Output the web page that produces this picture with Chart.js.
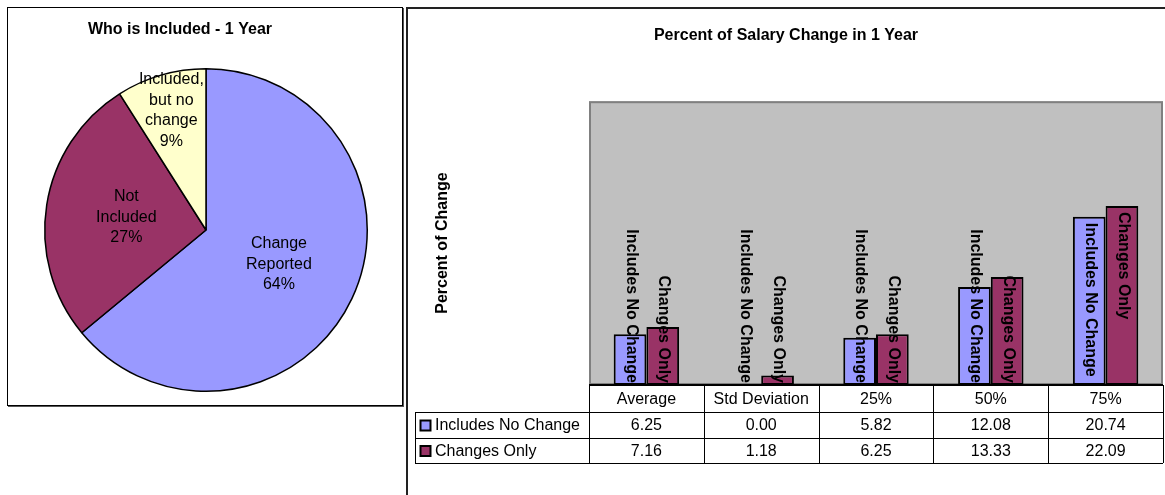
<!DOCTYPE html>
<html>
<head>
<meta charset="utf-8">
<script src="https://cdn.jsdelivr.net/npm/chart.js@4.4.0/dist/chart.umd.min.js"></script>
<style>
  body { margin: 0; background: #fff; width: 1165px; height: 495px; overflow: hidden; position: relative; }
  #pieBox { position: absolute; left: 7px; top: 7px; width: 396px; height: 399px; box-sizing: border-box; border: 1px solid #000; box-shadow: 1px 1px 0 #555; }
  #barBox { position: absolute; left: 406px; top: 7px; width: 770px; height: 500px; box-sizing: border-box; border-left: 2px solid #222; border-top: 2px solid #222; }
  #pieChart { position: absolute; left: 0; top: 0; }
  #barChart { position: absolute; left: 409px; top: 9px; }
</style>
</head>
<body>
<div id="pieBox"></div>
<div id="barBox"></div>
<canvas id="pieChart" width="405" height="405"></canvas>
<canvas id="barChart" width="756" height="486"></canvas>
<script>
const FONT = '"Liberation Sans", Arial, sans-serif'

// pie data
const pieLabels = ['Change Reported', 'Not Included', 'Included, but no change']
const pieValues = [64, 27, 9]
const pieColors = ['#9999FF', '#993366', '#FFFFCC']

// bar data
const categories = ['Average', 'Std Deviation', '25%', '50%', '75%']
const seriesNames = ['Includes No Change', 'Changes Only']
const includesNoChange = [6.25, 0.00, 5.82, 12.08, 20.74]
const changesOnly = [7.16, 1.18, 6.25, 13.33, 22.09]
const seriesColors = ['#9999FF', '#993366']

function wrapText(ctx, text, maxWidth) {
    const words = text.split(' ')
    const lines = []
    let line = ''
    words.forEach((w) => {
        const test = line ? line + ' ' + w : w
        if (line && ctx.measureText(test).width > maxWidth) {
            lines.push(line)
            line = w
        } else {
            line = test
        }
    })
    if (line) lines.push(line)
    return lines
}

// slice labels + title for the pie
const pieText = {
    id: 'pieText',
    afterDatasetsDraw(chart, args, opts) {
        const ctx = chart.ctx
        const meta = chart.getDatasetMeta(0)
        const data = chart.data.datasets[0].data
        const total = data.reduce((a, b) => a + b, 0)
        ctx.save()
        ctx.fillStyle = '#000'
        ctx.textAlign = 'center'
        ctx.textBaseline = 'middle'
        ctx.font = '16px ' + FONT
        meta.data.forEach((arc, i) => {
            const p = arc.getProps(['x', 'y', 'startAngle', 'endAngle', 'outerRadius'], true)
            const mid = (p.startAngle + p.endAngle) / 2
            const r = p.outerRadius * opts.radius[i]
            const cx = p.x + Math.cos(mid) * r
            const cy = p.y + Math.sin(mid) * r
            const lines = wrapText(ctx, chart.data.labels[i], 76)
            lines.push(Math.round(data[i] / total * 100) + '%')
            lines.forEach((t, j) => {
                ctx.fillText(t, cx, cy + (j - (lines.length - 1) / 2) * 20.5)
            })
        })
        ctx.font = 'bold 16px ' + FONT
        ctx.fillText(opts.title, opts.titleX, opts.titleY)
        ctx.restore()
    }
}

new Chart(document.getElementById('pieChart'), {
    type: 'pie',
    data: {
        labels: pieLabels,
        datasets: [{
            data: pieValues,
            backgroundColor: pieColors,
            borderColor: '#000',
            borderWidth: 1.5
        }]
    },
    options: {
        responsive: false,
        animation: false,
        layout: { padding: { left: 44, right: 37, top: 68, bottom: 13 } },
        plugins: {
            legend: { display: false },
            tooltip: { enabled: false },
            pieText: { radius: [0.5, 0.5, 0.77], title: 'Who is Included - 1 Year', titleX: 180, titleY: 30 }
        }
    },
    plugins: [pieText]
})

// gray plot area
const plotBg = {
    id: 'plotBg',
    beforeDatasetsDraw(chart) {
        const { ctx, chartArea: a } = chart
        ctx.save()
        ctx.fillStyle = '#C0C0C0'
        ctx.fillRect(a.left, a.top, a.right - a.left, a.bottom - a.top)
        ctx.strokeStyle = '#808080'
        ctx.lineWidth = 2
        ctx.strokeRect(a.left + 1, a.top + 1, a.right - a.left - 2, a.bottom - a.top - 2)
        ctx.restore()
    }
}

// rotated series names inside the bars
const barText = {
    id: 'barText',
    afterDatasetsDraw(chart) {
        const { ctx, chartArea: a } = chart
        ctx.save()
        ctx.font = 'bold 16px ' + FONT
        ctx.fillStyle = '#000'
        ctx.textAlign = 'left'
        ctx.textBaseline = 'middle'
        chart.data.datasets.forEach((ds, di) => {
            const meta = chart.getDatasetMeta(di)
            const tw = ctx.measureText(ds.label).width
            meta.data.forEach((bar) => {
                const start = Math.min(bar.y + 6, a.bottom - 2 - tw)
                ctx.save()
                ctx.translate(bar.x + 1, start)
                ctx.rotate(Math.PI / 2)
                ctx.fillText(ds.label, 0, 0)
                ctx.restore()
            })
        })
        ctx.restore()
    }
}

// data table under the plot, columns from the x scale
const dataTable = {
    id: 'dataTable',
    afterDraw(chart) {
        const { ctx, chartArea: a } = chart
        const x = chart.scales.x
        const n = chart.data.labels.length
        const colW = (x.right - x.left) / n
        const legLeft = 6
        const rows = [a.bottom, a.bottom + 27, a.bottom + 53, a.bottom + 78]
        ctx.save()
        ctx.strokeStyle = '#000'
        ctx.lineWidth = 1
        ctx.beginPath()
        for (let i = 0; i <= n; i++) {
            const px = Math.round(x.left + i * colW) + 0.5
            ctx.moveTo(px, rows[0])
            ctx.lineTo(px, rows[3])
        }
        ctx.moveTo(legLeft + 0.5, rows[1])
        ctx.lineTo(legLeft + 0.5, rows[3])
        for (let r = 1; r < 4; r++) {
            ctx.moveTo(legLeft, rows[r] + 0.5)
            ctx.lineTo(x.right, rows[r] + 0.5)
        }
        ctx.stroke()

        // axis line
        ctx.lineWidth = 2
        ctx.beginPath()
        ctx.moveTo(a.left, a.bottom)
        ctx.lineTo(a.right, a.bottom)
        ctx.stroke()

        ctx.font = '16px ' + FONT
        ctx.fillStyle = '#000'
        ctx.textBaseline = 'middle'
        ctx.textAlign = 'center'
        chart.data.labels.forEach((lab, i) => {
            const cx = x.getPixelForValue(i)
            ctx.fillText(lab, cx, (rows[0] + rows[1]) / 2 + 1)
        })
        chart.data.datasets.forEach((ds, di) => {
            const cy = (rows[di + 1] + rows[di + 2]) / 2 + 1
            ds.data.forEach((v, i) => {
                ctx.textAlign = 'center'
                ctx.fillText(v.toFixed(2), x.getPixelForValue(i), cy)
            })
            ctx.fillStyle = ds.backgroundColor
            ctx.fillRect(legLeft + 5, cy - 6, 11, 11)
            ctx.strokeRect(legLeft + 5.5, cy - 5.5, 10, 10)
            ctx.fillStyle = '#000'
            ctx.textAlign = 'left'
            ctx.fillText(ds.label, legLeft + 20, cy)
        })
        ctx.restore()
    }
}

new Chart(document.getElementById('barChart'), {
    type: 'bar',
    data: {
        labels: categories,
        datasets: [{
            label: seriesNames[0],
            data: includesNoChange,
            backgroundColor: seriesColors[0],
            borderColor: '#000',
            borderWidth: 2,
            borderSkipped: false,
            categoryPercentage: 0.57,
            barPercentage: 1
        }, {
            label: seriesNames[1],
            data: changesOnly,
            backgroundColor: seriesColors[1],
            borderColor: '#000',
            borderWidth: 2,
            borderSkipped: false,
            categoryPercentage: 0.57,
            barPercentage: 1
        }]
    },
    options: {
        responsive: false,
        animation: false,
        layout: { padding: { left: 0, right: 2, top: 0, bottom: 110 } },
        plugins: {
            legend: { display: false },
            tooltip: { enabled: false },
            title: {
                display: true,
                text: 'Percent of Salary Change in 1 Year',
                color: '#000',
                font: { family: FONT, size: 16, weight: 'bold' },
                padding: { top: 17, bottom: 56 }
            }
        },
        scales: {
            x: { display: false },
            y: {
                min: 0,
                max: 35,
                ticks: { display: false },
                grid: { display: false },
                border: { display: false },
                title: {
                    display: true,
                    text: 'Percent of Change',
                    color: '#000',
                    font: { family: FONT, size: 16, weight: 'bold' },
                    padding: { top: 24, bottom: 0 }
                },
                afterFit(scale) { scale.width = 180 }
            }
        }
    },
    plugins: [plotBg, barText, dataTable]
})
</script>
</body>
</html>
